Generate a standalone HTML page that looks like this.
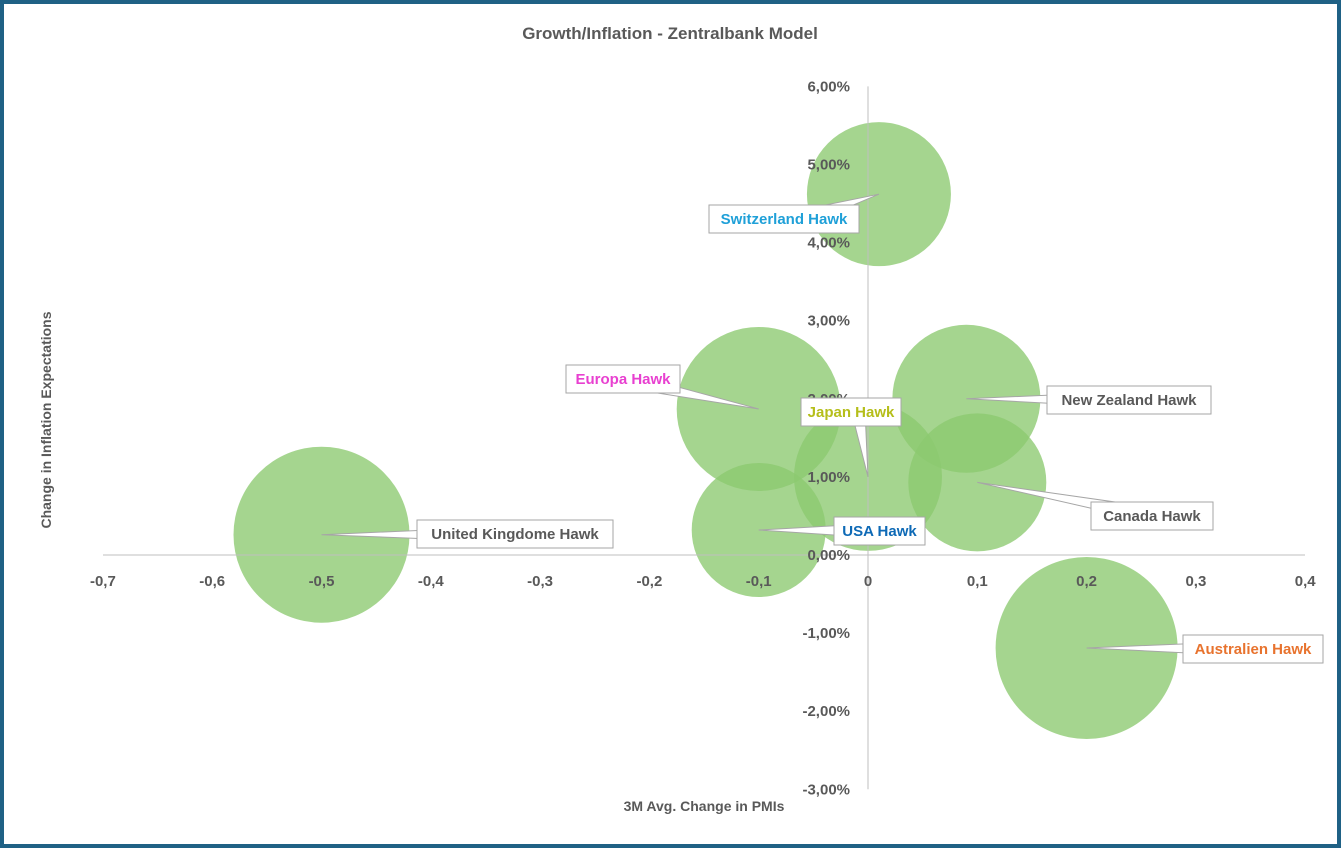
<!DOCTYPE html>
<html><head><meta charset="utf-8"><style>
body{margin:0;background:#fff;}
svg{display:block;font-family:"Liberation Sans",Arial,sans-serif;}
</style></head><body>
<svg id="chart" width="1341" height="848" viewBox="0 0 1341 848">
<rect x="2" y="2" width="1337" height="844" fill="#fff" stroke="#1F6185" stroke-width="4"/>
<text x="670" y="39" text-anchor="middle" font-size="17" font-weight="bold" fill="#595959">Growth/Inflation - Zentralbank Model</text>
<g id="bubbles"></g>
<g id="axes"></g>
<g id="labels"></g>
<text x="704" y="811" text-anchor="middle" font-size="14" font-weight="bold" fill="#595959">3M Avg. Change in PMIs</text>
<text transform="translate(51,420) rotate(-90)" text-anchor="middle" font-size="14" font-weight="bold" fill="#595959">Change in Inflation Expectations</text>
</svg>
<script>
const names = ["Switzerland Hawk","Europa Hawk","New Zealand Hawk","Japan Hawk","Canada Hawk","USA Hawk","United Kingdome Hawk","Australien Hawk"];
const xVals = [0.01,-0.10,0.09,0.00,0.10,-0.10,-0.50,0.20];
const yVals = [4.62,1.87,2.00,1.00,0.93,0.32,0.26,-1.19];
const sizes = [72,82,74,74,69,67,88,91];
const labelColors = ["#1FA0D8","#E840D0","#595959","#B5BE1A","#595959","#0E6AB6","#595959","#E8732E"];
const labelBoxes = [[709,205,150],[566,365,114],[1047,386,164],[801,398,100],[1091,502,122],[834,517,91],[417,520,196],[1183,635,140]];
const xTicks = [-0.7,-0.6,-0.5,-0.4,-0.3,-0.2,-0.1,0,0.1,0.2,0.3,0.4];
const yTicks = [6,5,4,3,2,1,0,-1,-2,-3];

const NS="http://www.w3.org/2000/svg";
const X = v => 868 + v*1093;
const Y = v => 555 - v*78.1;
function mk(tag, attrs, parent){const e=document.createElementNS(NS,tag);for(const k in attrs)e.setAttribute(k,attrs[k]);parent.appendChild(e);return e;}
const axes=document.getElementById('axes');
let l=mk('line',{x1:103,y1:Y(0),x2:1305,y2:Y(0),stroke:'#BFBFBF','stroke-width':1},axes);


l=mk('line',{x1:X(0),y1:Y(6),x2:X(0),y2:Y(-3),stroke:'#BFBFBF','stroke-width':1},axes);


xTicks.forEach(t=>{
  const e=mk('text',{x:X(t),y:586,'text-anchor':'middle','font-size':15,'font-weight':'bold',fill:'#595959'},axes);
  e.textContent=(Math.round(t*10)/10).toString().replace('.',',');
  
  
});
yTicks.forEach(t=>{
  const e=mk('text',{x:850,y:Y(t)+5,'text-anchor':'end','font-size':15,'font-weight':'bold',fill:'#595959'},axes);
  e.textContent=t.toFixed(2).replace('.',',')+'%';
  
  
});
const bg=document.getElementById('bubbles'), lg=document.getElementById('labels');
names.forEach((n,i)=>{
  const cx=X(xVals[i]), cy=Y(yVals[i]);
  const c=mk('circle',{cx:cx,cy:cy,r:sizes[i],fill:'#8CC96F','fill-opacity':0.78},bg);
  
  
  const [bx,by,bw]=labelBoxes[i], bh=28;
  const mx=bx+bw/2, my=by+bh/2;
  const dx=cx-mx, dy=cy-my, len=Math.hypot(dx,dy)||1;
  const px=-dy/len*6, py=dx/len*6;
  const ex=Math.max(bx,Math.min(bx+bw,cx)), ey=Math.max(by,Math.min(by+bh,cy));
  const sx=(ex+mx)/2, sy=(ey+my)/2;
  const p=mk('polygon',{points:`${sx+px},${sy+py} ${sx-px},${sy-py} ${cx},${cy}`,fill:'#fff',stroke:'#A6A6A6','stroke-width':1},lg);
  
  
  const r=mk('rect',{x:bx,y:by,width:bw,height:bh,fill:'#fff',stroke:'#A6A6A6','stroke-width':1},lg);
  
  
  const t=mk('text',{x:mx,y:by+19,'text-anchor':'middle','font-size':15,'font-weight':'bold',fill:labelColors[i]},lg);
  t.textContent=n;
  
  
});
</script>
</body></html>
